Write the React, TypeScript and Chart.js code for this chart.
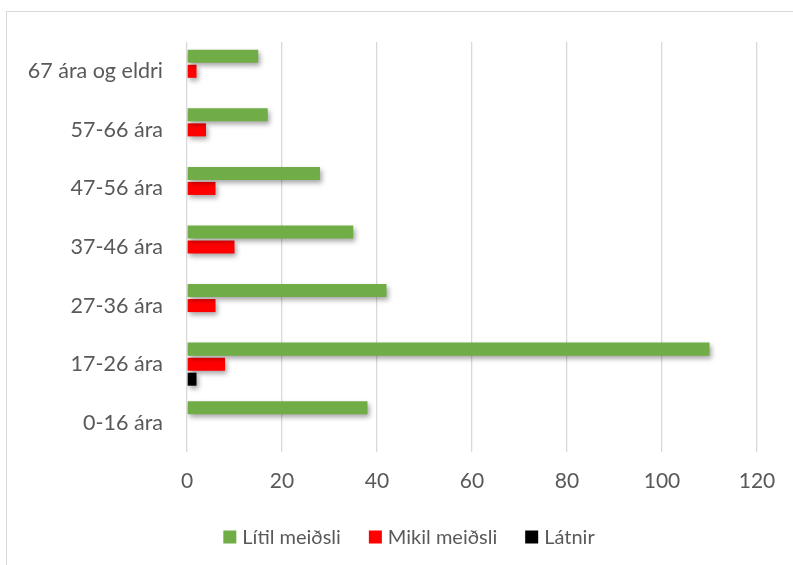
import React, { useEffect, useRef } from "react";
import { Chart, registerables } from "chart.js";

Chart.register(...registerables);

const categories = ["67 ára og eldri", "57-66 ára", "47-56 ára", "37-46 ára", "27-36 ára", "17-26 ára", "0-16 ára"];
const litilMeidsli = [15, 17, 28, 35, 42, 110, 38];
const mikilMeidsli = [2, 4, 6, 10, 6, 8, 0];
const latnir = [0, 0, 0, 0, 0, 2, 0];
const seriesNames = ["Lítil meiðsli", "Mikil meiðsli", "Látnir"];
const xTicks = [0, 20, 40, 60, 80, 100, 120];

const FONT = "Lato, 'Open Sans', sans-serif";
const TEXT = "#595959";

const shadowPlugin = {
  id: "barShadow",
  beforeDatasetsDraw(chart: any) {
    const ctx = chart.ctx;
    ctx.save();
    ctx.shadowColor = "rgba(0,0,0,0.35)";
    ctx.shadowBlur = 5;
    ctx.shadowOffsetX = 2;
    ctx.shadowOffsetY = 3;
  },
  afterDatasetsDraw(chart: any) {
    chart.ctx.restore();
  },
};

const legendPlugin = {
  id: "customLegend",
  afterDraw(chart: any) {
    const ctx = chart.ctx;
    const fontSize = 20;
    const box = 13;
    const gap = 6;
    const itemGap = 28;
    const cy = 537;
    ctx.save();
    ctx.font = `${fontSize}px ${FONT}`;
    const items = chart.data.datasets.map((d: any) => ({
      label: d.label,
      color: d.backgroundColor,
      w: ctx.measureText(d.label).width,
    }));
    const total =
      items.reduce((s: number, it: any) => s + box + gap + it.w, 0) + itemGap * (items.length - 1);
    let x = 409 - total / 2;
    ctx.textBaseline = "middle";
    ctx.textAlign = "left";
    items.forEach((it: any) => {
      ctx.fillStyle = it.color;
      ctx.fillRect(x, cy - box / 2, box, box);
      x += box + gap;
      ctx.fillStyle = TEXT;
      ctx.fillText(it.label, x, cy + 1);
      x += it.w + itemGap;
    });
    ctx.restore();
  },
};

export default function App() {
  const ref = useRef<HTMLCanvasElement | null>(null);
  useEffect(() => {
    if (!ref.current) return;
    const chart = new Chart(ref.current, {
      type: "bar",
      data: {
        labels: categories,
        datasets: [
          { label: seriesNames[0], data: litilMeidsli, backgroundColor: "#70AD47" },
          { label: seriesNames[1], data: mikilMeidsli, backgroundColor: "#FF0000" },
          { label: seriesNames[2], data: latnir, backgroundColor: "#000000" },
        ],
      },
      options: {
        indexAxis: "y",
        animation: false,
        responsive: false,
        devicePixelRatio: 1,
        layout: { padding: { top: 42, right: 36, left: 10, bottom: 53 } },
        datasets: { bar: { categoryPercentage: 0.77, barPercentage: 0.867 } },
        scales: {
          x: {
            min: 0,
            max: 120,
            afterBuildTicks(scale: any) {
              scale.ticks = xTicks.map((v) => ({ value: v }));
            },
            afterFit(scale: any) {
              scale.height = 60;
            },
            grid: { color: "#d9d9d9", lineWidth: 1.3, drawTicks: false },
            border: { display: false },
            ticks: { color: TEXT, font: { family: FONT, size: 21 }, padding: 17 },
          },
          y: {
            afterFit(scale: any) {
              scale.width = 177;
            },
            grid: { display: false, drawTicks: false },
            border: { display: false },
            ticks: { color: TEXT, font: { family: FONT, size: 21.5 }, padding: 24 },
          },
        },
        plugins: {
          legend: { display: false },
          tooltip: { enabled: false },
        },
      },
      plugins: [shadowPlugin, legendPlugin],
    } as any);
    return () => chart.destroy();
  }, []);

  return (
    <div style={{ position: "fixed", left: 0, top: 0, width: 793, height: 565, overflow: "hidden", background: "#fff" }}>
      <div
        style={{
          position: "absolute",
          left: 6,
          top: 11,
          width: 820,
          height: 600,
          border: "1px solid #d9d9d9",
          boxSizing: "border-box",
        }}
      />
      <canvas ref={ref} width={793} height={565} style={{ position: "absolute", left: 0, top: 0 }} />
    </div>
  );
}
